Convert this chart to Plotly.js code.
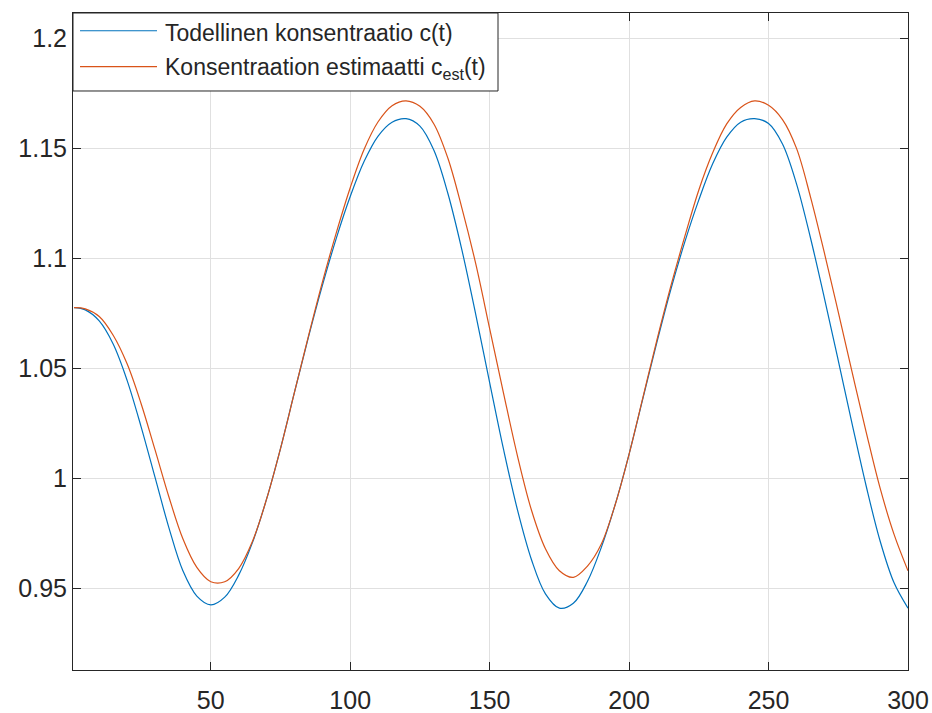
<!DOCTYPE html>
<html>
<head>
<meta charset="utf-8">
<script src="https://cdn.plot.ly/plotly-3.0.1.min.js"></script>
<style>html,body{margin:0;padding:0;background:#fff;}#chart{width:932px;height:713px;}</style>
</head>
<body>
<div id="chart"></div>
<script>
const t = [1,5,10,15,20,25,30,35,40,45,50,55,60,65,70,75,80,85,90,95,100,105,110,115,120,125,130,135,140,145,150,155,160,165,170,175,180,185,190,195,200,205,210,215,220,225,230,235,240,245,250,255,260,265,270,275,280,285,290,295,300];

const cTrue = [1.0775,1.0765,1.0715,1.0610,1.0445,1.0235,1.0005,0.9775,0.9580,0.9465,0.9425,0.9460,0.9560,0.9710,0.9905,1.0135,1.0390,1.0640,1.0875,1.1090,1.1280,1.1440,1.1555,1.1618,1.1634,1.1600,1.1490,1.1295,1.1040,1.0745,1.0435,1.0130,0.9855,0.9630,0.9475,0.9410,0.9432,0.9530,0.9685,0.9880,1.0110,1.0365,1.0620,1.0860,1.1075,1.1265,1.1430,1.1550,1.1618,1.1634,1.1612,1.1519,1.1339,1.1094,1.0820,1.0535,1.0245,0.9965,0.9715,0.9525,0.9410];

const cEst = [1.0775,1.0770,1.0735,1.0650,1.0520,1.0340,1.0130,0.9915,0.9725,0.9595,0.9530,0.9530,0.9590,0.9715,0.9905,1.0135,1.0390,1.0645,1.0890,1.1115,1.1320,1.1495,1.1620,1.1693,1.1715,1.1690,1.1610,1.1455,1.1230,1.0975,1.0680,1.0385,1.0100,0.9855,0.9680,0.9580,0.9550,0.9600,0.9700,0.9880,1.0110,1.0370,1.0630,1.0875,1.1100,1.1310,1.1480,1.1610,1.1685,1.1715,1.1695,1.1630,1.1500,1.1280,1.1025,1.0755,1.0480,1.0210,0.9955,0.9745,0.9580];

const xTickVals = [50,100,150,200,250,300];
const xTickText = ['50','100','150','200','250','300'];
const yTickVals = [0.95,1,1.05,1.1,1.15,1.2];
const yTickText = ['0.95','1','1.05','1.1','1.15','1.2'];

const seriesNames = ['Todellinen konsentraatio c(t)', 'Konsentraation estimaatti c<sub>est</sub>(t)'];
const seriesColors = ['#0072BD', '#D95319'];

const FONT = '"Liberation Sans", Arial, Helvetica, sans-serif';
const AX = '#262626';

const traces = [
  {x: t, y: cTrue, type: 'scatter', mode: 'lines', name: seriesNames[0],
   line: {color: seriesColors[0], width: 1.2, shape: 'spline', smoothing: 1}},
  {x: t, y: cEst, type: 'scatter', mode: 'lines', name: seriesNames[1],
   line: {color: seriesColors[1], width: 1.2, shape: 'spline', smoothing: 1}}
];

// custom legend box (paper coordinates)
const legX1 = 0.509, legY0 = 0.8813;
const rowY = [0.973, 0.9183];
const shapes = [
  {type: 'rect', xref: 'paper', yref: 'paper', x0: 0, x1: legX1, y0: legY0, y1: 1,
   line: {color: AX, width: 1}, fillcolor: '#ffffff', layer: 'above'}
];
const annotations = [];
for (let i = 0; i < 2; i++) {
  shapes.push({type: 'line', xref: 'paper', yref: 'paper', x0: 0.0084, x1: 0.1006,
               y0: rowY[i], y1: rowY[i], line: {color: seriesColors[i], width: 1.2}, layer: 'above'});
  annotations.push({xref: 'paper', yref: 'paper', x: 0.1080, y: rowY[i] - 0.003,
                    xanchor: 'left', yanchor: 'middle', showarrow: false,
                    text: seriesNames[i], font: {family: FONT, size: 23, color: AX}});
}

const layout = {
  width: 932, height: 713,
  margin: {l: 73, r: 24, t: 13, b: 43, pad: 0},
  paper_bgcolor: '#ffffff', plot_bgcolor: '#ffffff',
  showlegend: false,
  font: {family: FONT, size: 25, color: AX},
  xaxis: {
    range: [0.6, 300], tickmode: 'array', tickvals: xTickVals, ticktext: xTickText,
    showgrid: true, gridcolor: '#e0e0e0', gridwidth: 1, zeroline: false,
    showline: true, linecolor: AX, linewidth: 1, mirror: 'ticks',
    ticks: 'inside', ticklen: 8, tickcolor: AX, tickwidth: 1,
    ticklabelstandoff: 8,
    tickfont: {family: FONT, size: 25, color: AX}
  },
  yaxis: {
    range: [0.9129, 1.2114], tickmode: 'array', tickvals: yTickVals, ticktext: yTickText,
    showgrid: true, gridcolor: '#e0e0e0', gridwidth: 1, zeroline: false,
    showline: true, linecolor: AX, linewidth: 1, mirror: 'ticks',
    ticks: 'inside', ticklen: 8, tickcolor: AX, tickwidth: 1,
    tickfont: {family: FONT, size: 25, color: AX}
  },
  shapes: shapes,
  annotations: annotations
};

Plotly.newPlot('chart', traces, layout, {displayModeBar: false, staticPlot: true});
</script>
</body>
</html>
